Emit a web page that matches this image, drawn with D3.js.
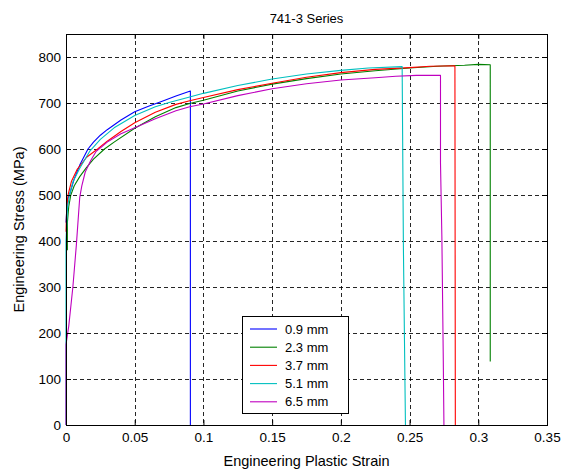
<!DOCTYPE html>
<html>
<head>
<meta charset="utf-8">
<script src="https://cdn.jsdelivr.net/npm/d3@7"></script>
<style>
  html, body { margin: 0; padding: 0; background: #fff; }
  svg { display: block; font-family: Arial, "Liberation Sans", Helvetica, sans-serif; }
</style>
</head>
<body>
<svg id="chart" width="579" height="471"></svg>
<script>
// Stress-strain curves, [engineering plastic strain, engineering stress (MPa)]
const series = ["0.9 mm", "2.3 mm", "3.7 mm", "5.1 mm", "6.5 mm"];
const colors = ["#0000ff", "#008000", "#ff0000", "#00bfbf", "#bf00bf"];

const curve09 = [[0,440],[0.001,490],[0.003,505],[0.006,535],[0.01,565],[0.016,600],[0.02,615],[0.025,630],[0.03,642],[0.04,663],[0.05,681],[0.06,693],[0.07,704],[0.08,715],[0.0905,726],[0.0905,0]];
const curve23 = [[0.001,380],[0.001,440],[0.002,475],[0.0035,500],[0.006,520],[0.01,540],[0.015,560],[0.02,578],[0.028,600],[0.035,615],[0.05,645],[0.065,670],[0.08,690],[0.09,699],[0.1,706],[0.125,726],[0.15,741],[0.175,753],[0.2,763],[0.225,770],[0.25,776],[0.27,780],[0.29,782],[0.3,784],[0.3087,783],[0.3087,138]];
const curve37 = [[0,420],[0.0005,470],[0.0015,500],[0.004,530],[0.008,555],[0.015,582],[0.023,600],[0.03,617],[0.04,638],[0.05,657],[0.065,680],[0.08,697],[0.09,705],[0.1,712],[0.125,729],[0.15,743],[0.175,756],[0.2,766],[0.225,773],[0.25,777],[0.265,780],[0.283,781],[0.2833,0]];
const curve51 = [[0,0],[0,400],[0.001,470],[0.0025,500],[0.005,528],[0.01,558],[0.0175,596],[0.025,621],[0.035,646],[0.05,673],[0.065,692],[0.075,701],[0.09,713],[0.1,721],[0.125,738],[0.15,752],[0.175,763],[0.2,771],[0.22,776],[0.2446,779],[0.2455,390],[0.247,0]];
const curve65 = [[0,0],[0,175],[0.002,215],[0.005,300],[0.0075,390],[0.01,495],[0.0115,520],[0.014,550],[0.018,575],[0.022,595],[0.03,615],[0.04,633],[0.05,646],[0.065,666],[0.08,683],[0.09,692],[0.1,698],[0.125,716],[0.15,731],[0.175,742],[0.2,750],[0.225,755],[0.24,758],[0.255,760],[0.2725,760],[0.2725,570],[0.2735,410],[0.2745,150],[0.275,0]];
const curves = [curve09, curve23, curve37, curve51, curve65];

const xTicks = [0, 0.05, 0.1, 0.15, 0.2, 0.25, 0.3, 0.35];
const yTicks = [0, 100, 200, 300, 400, 500, 600, 700, 800];

const svg = d3.select("#chart");
const plotL = 66, plotR = 547, plotT = 34, plotB = 425;

const x = d3.scaleLinear().domain([0, 0.35]).range([plotL, plotR]);
const y = d3.scaleLinear().domain([0, 850]).range([plotB, plotT]);

// Grid
const grid = svg.append("g").attr("stroke", "#000").attr("stroke-width", 1)
  .attr("stroke-dasharray", "4,3").attr("stroke-opacity", 0.85).attr("shape-rendering", "crispEdges");
xTicks.slice(1, -1).forEach(t => {
  grid.append("line").attr("x1", Math.round(x(t)) + 0.5).attr("x2", Math.round(x(t)) + 0.5)
    .attr("y1", plotT).attr("y2", plotB);
});
yTicks.slice(1).forEach(t => {
  grid.append("line").attr("y1", Math.round(y(t)) + 0.5).attr("y2", Math.round(y(t)) + 0.5)
    .attr("x1", plotL).attr("x2", plotR);
});

// Curves
const line = d3.line().x(d => x(d[0])).y(d => y(d[1]));
curves.forEach((c, i) => {
  svg.append("path").datum(c).attr("d", line)
    .attr("fill", "none").attr("stroke", colors[i]).attr("stroke-width", 1.1)
    .attr("stroke-linejoin", "round");
});

// Axes with inward ticks on all four sides
const fmtX = d => d === 0 ? "0" : String(d);
const axB = svg.append("g").attr("transform", `translate(0,${plotB})`)
  .call(d3.axisBottom(x).tickValues(xTicks).tickSizeInner(-5).tickSizeOuter(0).tickPadding(7).tickFormat(fmtX));
const axT = svg.append("g").attr("transform", `translate(0,${plotT})`)
  .call(d3.axisTop(x).tickValues(xTicks).tickSizeInner(-5).tickSizeOuter(0).tickFormat(""));
const axL = svg.append("g").attr("transform", `translate(${plotL},0)`)
  .call(d3.axisLeft(y).tickValues(yTicks).tickSizeInner(-5).tickSizeOuter(0).tickPadding(5).tickFormat(d3.format("d")));
const axR = svg.append("g").attr("transform", `translate(${plotR},0)`)
  .call(d3.axisRight(y).tickValues(yTicks).tickSizeInner(-5).tickSizeOuter(0).tickFormat(""));
[axB, axT, axL, axR].forEach(a => {
  a.selectAll(".domain").remove();
  a.selectAll("line").attr("stroke", "#000");
  a.selectAll("text").attr("font-size", 13.5).attr("fill", "#000")
    .attr("font-family", "Arial, 'Liberation Sans', sans-serif");
});
axB.selectAll("text").attr("dy", "0.71em");

// Frame
svg.append("rect").attr("x", plotL + 0.5).attr("y", plotT + 0.5)
  .attr("width", plotR - plotL).attr("height", plotB - plotT)
  .attr("fill", "none").attr("stroke", "#000").attr("stroke-width", 1);

// Title and axis labels
svg.append("text").attr("x", (plotL + plotR) / 2).attr("y", 23).attr("text-anchor", "middle")
  .attr("font-size", 13).text("741-3 Series");
svg.append("text").attr("x", (plotL + plotR) / 2).attr("y", 466).attr("text-anchor", "middle")
  .attr("font-size", 14.5).text("Engineering Plastic Strain");
svg.append("text").attr("transform", `translate(24,${(plotT + plotB) / 2}) rotate(-90)`)
  .attr("text-anchor", "middle").attr("font-size", 14.5).text("Engineering Stress (MPa)");

// Legend
const lg = svg.append("g");
lg.append("rect").attr("x", 242.5).attr("y", 316.5).attr("width", 106).attr("height", 97)
  .attr("fill", "#fff").attr("stroke", "#000");
series.forEach((s, i) => {
  const yy = 329 + i * 18.2;
  lg.append("line").attr("x1", 250).attr("x2", 277).attr("y1", yy).attr("y2", yy)
    .attr("stroke", colors[i]).attr("stroke-width", 1.1);
  lg.append("text").attr("x", 285).attr("y", yy).attr("dy", "0.35em")
    .attr("font-size", 13).text(s);
});
</script>
</body>
</html>
